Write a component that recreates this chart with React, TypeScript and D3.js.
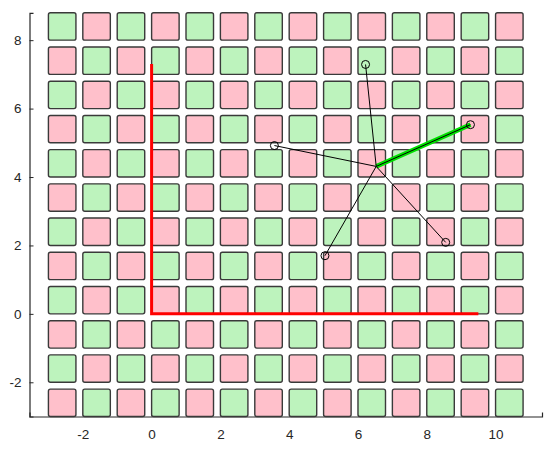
import React, { useRef, useEffect } from "react";
import * as d3 from "d3";

// grid of tiles: lower-left corners
const tileCols = d3.range(-3, 11); // -3 .. 10
const tileRows = d3.range(-3, 9); // -3 .. 8
const tileSize = 0.8;

// red "L" polyline
const redX = [0, 0, 9.5];
const redY = [7.3, 0, 0];

// star: hub and spoke ends
const hub = { x: 6.53, y: 4.31 };
const spokeX = [6.22, 9.27, 3.57, 8.55, 5.04];
const spokeY = [7.29, 5.53, 4.92, 2.09, 1.7];
const highlightIndex = 1;

const xTicks = [-2, 0, 2, 4, 6, 8, 10];
const yTicks = [-2, 0, 2, 4, 6, 8];

const W = 550;
const H = 450;

function App() {
  const ref = useRef<SVGSVGElement>(null);

  useEffect(() => {
    const svg = d3.select(ref.current).html("");

    const x = d3.scaleLinear().domain([-3.55, 11.35]).range([29.5, 542]);
    const y = d3.scaleLinear().domain([-3, 8.8]).range([416.5, 12.8]);

    // axes first, tiles sit on top (hides the bottom ticks like the reference)
    const axisColor = "#262626";
    const font = "'Liberation Sans', Arial, Helvetica, sans-serif";

    const yAxis = svg
      .append("g")
      .attr("transform", `translate(${x(-3.55)},0)`)
      .call(d3.axisLeft(y).tickValues(yTicks).tickSize(-4).tickPadding(8));
    const xAxis = svg
      .append("g")
      .attr("transform", `translate(0,${y(-3)})`)
      .call(d3.axisBottom(x).tickValues(xTicks).tickSize(-4).tickPadding(13));

    [xAxis, yAxis].forEach((a) => {
      a.select(".domain").attr("stroke", axisColor).attr("stroke-width", 1.2);
      a.selectAll(".tick line").attr("stroke", axisColor);
      a.selectAll(".tick text")
        .attr("fill", axisColor)
        .style("font-family", font)
        .style("font-size", "13.5px")
        .text((d: any) => String(d));
    });

    // tiles
    const tiles = tileRows.flatMap((r) => tileCols.map((c) => ({ c, r })));
    svg
      .append("g")
      .selectAll("rect")
      .data(tiles)
      .join("rect")
      .attr("x", (d) => x(d.c))
      .attr("y", (d) => y(d.r + tileSize))
      .attr("width", (d) => x(d.c + tileSize) - x(d.c))
      .attr("height", (d) => y(d.r) - y(d.r + tileSize))
      .attr("rx", 2)
      .attr("fill", (d) => (Math.abs(d.c + d.r) % 2 === 1 ? "#bdf3bd" : "#ffc0cb"))
      .attr("stroke", "#3a3a3a")
      .attr("stroke-width", 1.4);

    // red L
    const line = d3
      .line<number>()
      .x((i) => x(redX[i]))
      .y((i) => y(redY[i]));
    svg
      .append("path")
      .attr("d", line(d3.range(redX.length)))
      .attr("fill", "none")
      .attr("stroke", "#ff0000")
      .attr("stroke-width", 3);

    // highlight spoke
    svg
      .append("line")
      .attr("x1", x(hub.x))
      .attr("y1", y(hub.y))
      .attr("x2", x(spokeX[highlightIndex]))
      .attr("y2", y(spokeY[highlightIndex]))
      .attr("stroke", "#00e000")
      .attr("stroke-width", 4.5);

    const ends = spokeX.map((sx, i) => ({ sx, sy: spokeY[i] }));

    // spokes
    svg
      .append("g")
      .selectAll("line")
      .data(ends)
      .join("line")
      .attr("x1", x(hub.x))
      .attr("y1", y(hub.y))
      .attr("x2", (d) => x(d.sx))
      .attr("y2", (d) => y(d.sy))
      .attr("stroke", "#000")
      .attr("stroke-width", 1);

    svg
      .append("g")
      .selectAll("circle")
      .data(ends)
      .join("circle")
      .attr("cx", (d) => x(d.sx))
      .attr("cy", (d) => y(d.sy))
      .attr("r", 4)
      .attr("fill", "none")
      .attr("stroke", "#000")
      .attr("stroke-width", 1);
  }, []);

  return (
    <svg
      ref={ref}
      width={W}
      height={H}
      style={{ position: "absolute", left: 0, top: 0, background: "#fff" }}
    />
  );
}

export default App;
